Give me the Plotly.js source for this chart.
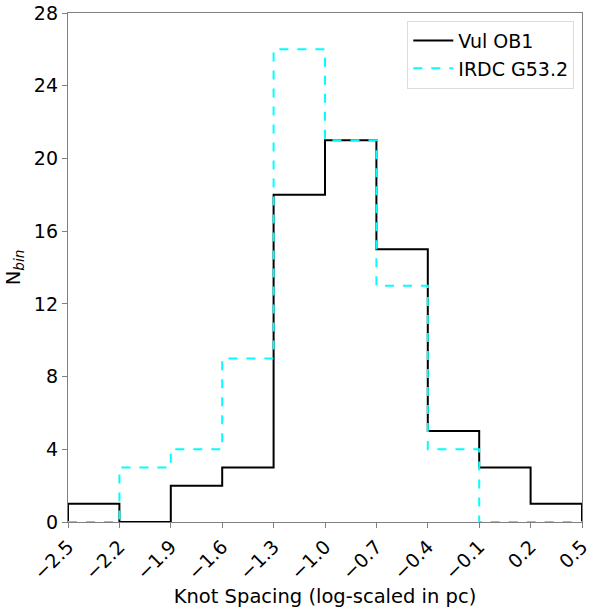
<!DOCTYPE html>
<html>
<head>
<meta charset="utf-8">
<script src="https://cdn.plot.ly/plotly-3.0.1.min.js"></script>
<style>html,body{margin:0;padding:0;background:#fff;}#chart{width:598px;height:610px;}</style>
</head>
<body>
<div id="chart"></div>
<script>
var binEdges = [-2.5, -2.2, -1.9, -1.6, -1.3, -1.0, -0.7, -0.4, -0.1, 0.2, 0.5];
var vulCounts = [1, 0, 2, 3, 18, 21, 15, 5, 3, 1];
var irdcCounts = [0, 3, 4, 9, 26, 21, 13, 4, 0, 0];
var xTickVals = [-2.5, -2.2, -1.9, -1.6, -1.3, -1.0, -0.7, -0.4, -0.1, 0.2, 0.5];
var xTickText = ["\u22122.5", "\u22122.2", "\u22121.9", "\u22121.6", "\u22121.3", "\u22121.0", "\u22120.7", "\u22120.4", "\u22120.1", "0.2", "0.5"];
var yTickVals = [0, 4, 8, 12, 16, 20, 24, 28];

function stepXY(edges, counts) {
  var x = [edges[0]], y = [0];
  for (var i = 0; i < counts.length; i++) { x.push(edges[i]); y.push(counts[i]); }
  x.push(edges[edges.length - 1]); y.push(0);
  return {x: x, y: y};
}
var v = stepXY(binEdges, vulCounts);
var r = stepXY(binEdges, irdcCounts);

var traces = [
  {x: v.x, y: v.y, type: 'scatter', mode: 'lines', name: 'Vul OB1',
   line: {shape: 'hv', color: '#000000', width: 2}},
  {x: r.x, y: r.y, type: 'scatter', mode: 'lines', name: 'IRDC G53.2',
   line: {shape: 'hv', color: '#00FFFF', width: 2, dash: 'dash'}}
];

var layout = {
  width: 598, height: 610,
  margin: {l: 68, r: 16, t: 13, b: 88},
  paper_bgcolor: '#fff', plot_bgcolor: '#fff',
  font: {family: 'DejaVu Sans', size: 19, color: '#000'},
  showlegend: true,
  legend: {x: 0.985, y: 0.985, xanchor: 'right', yanchor: 'top',
           bordercolor: '#dcdcdc', borderwidth: 1, bgcolor: 'rgba(255,255,255,0.8)',
           font: {family: 'DejaVu Sans', size: 19}, tracegroupgap: 0, itemwidth: 40},
  xaxis: {range: [-2.5, 0.5], tickvals: xTickVals, ticktext: xTickText, tickangle: -45,
          showgrid: false, zeroline: false, showline: true, mirror: true, linecolor: '#808080', linewidth: 1.2,
          ticks: 'outside', ticklen: 5, tickcolor: '#808080',
          tickfont: {family: 'DejaVu Sans', size: 19},
          title: {text: 'Knot Spacing (log-scaled in pc)', font: {family: 'DejaVu Sans', size: 19.5}, standoff: 6}},
  yaxis: {range: [0, 28], tickvals: yTickVals, showgrid: false, zeroline: false, showline: true, mirror: true,
          linecolor: '#808080', linewidth: 1.2, ticks: 'outside', ticklen: 5, tickcolor: '#808080',
          tickfont: {family: 'DejaVu Sans', size: 19},
          title: {text: 'N<sub><i>bin</i></sub>', font: {family: 'DejaVu Sans', size: 19.5}, standoff: 8}}
};
Plotly.newPlot('chart', traces, layout, {displayModeBar: false, staticPlot: true});
</script>
</body>
</html>
